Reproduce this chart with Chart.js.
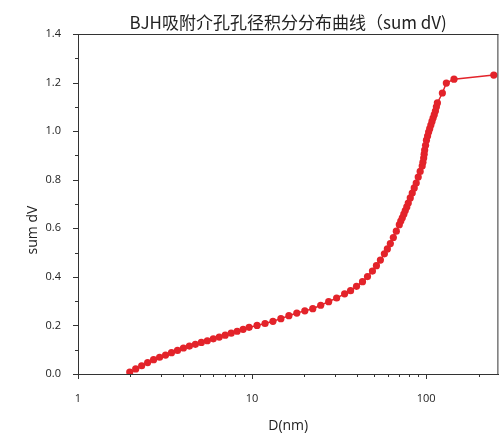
<!DOCTYPE html>
<html>
<head>
<meta charset="utf-8">
<script src="https://cdn.jsdelivr.net/npm/chart.js@4/dist/chart.umd.min.js"></script>
<style>
  html, body { margin: 0; padding: 0; background: #fff; }
  #wrap { width: 502px; height: 440px; }
</style>
</head>
<body>
<div id="wrap"><canvas id="c" width="502" height="440"></canvas></div>
<script>
// pore diameter (nm) and cumulative volume
const poreD = [
  1.983, 2.145, 2.321, 2.512, 2.718, 2.942, 3.184, 3.444, 3.728, 4.034,
  4.365, 4.724, 5.112, 5.532, 5.986, 6.478, 7.01, 7.586, 8.209, 8.884,
  9.614, 10.68, 11.87, 13.18, 14.64, 16.27, 18.07, 20.09, 22.32, 24.79,
  27.54, 30.6, 34.0, 36.8, 39.81, 43.09, 46.02, 49.14, 51.79, 54.59,
  57.54, 59.86, 62.27, 64.78, 67.39, 70.1, 71.5, 72.93, 74.4, 75.86,
  77.4, 78.92, 81.03, 83.18, 85.39, 87.68, 90.02, 92.4, 94.87, 95.8,
  96.76, 97.4, 98.04, 99.2, 100.4, 101.9, 103.3, 104.8, 106.4, 108.0,
  109.6, 111.3, 113.0, 114.5, 116.0, 123.9, 130.6, 144.5, 244.6
];
const sumDV = [
  0.008, 0.021, 0.034, 0.047, 0.059, 0.069, 0.078, 0.088, 0.097, 0.107,
  0.115, 0.122, 0.130, 0.137, 0.145, 0.152, 0.160, 0.168, 0.176, 0.184,
  0.192, 0.200, 0.208, 0.217, 0.228, 0.240, 0.251, 0.260, 0.269, 0.283,
  0.298, 0.313, 0.330, 0.343, 0.361, 0.380, 0.401, 0.424, 0.446, 0.469,
  0.495, 0.515, 0.537, 0.562, 0.588, 0.615, 0.630, 0.643, 0.658, 0.673,
  0.688, 0.704, 0.725, 0.745, 0.766, 0.786, 0.811, 0.834, 0.856, 0.872,
  0.889, 0.905, 0.922, 0.942, 0.963, 0.980, 0.996, 1.010, 1.025, 1.040,
  1.054, 1.068, 1.083, 1.100, 1.116, 1.157, 1.198, 1.214, 1.231
];
const xLabels = [1, 10, 100];
const xMinor = [2, 3, 4, 5, 6, 7, 8, 9, 20, 30, 40, 50, 60, 70, 80, 90, 200];
const yTicks = [0, 0.1, 0.2, 0.3, 0.4, 0.5, 0.6, 0.7, 0.8, 0.9, 1.0, 1.1, 1.2, 1.3, 1.4];

const chartTitle = 'BJH吸附介孔孔径积分分布曲线（sum dV)';
const xTitle = 'D(nm)';
const yTitle = 'sum dV';

const axisColor = '#333';
const red = '#e3232a';

// frame, tick marks and texts
const decor = {
  id: 'decor',
  afterDraw(chart) {
    const ctx = chart.ctx;
    const a = chart.chartArea;
    const xs = chart.scales.x, ys = chart.scales.y;
    ctx.save();
    ctx.strokeStyle = axisColor;
    ctx.lineWidth = 1;
    ctx.beginPath();
    ctx.moveTo(a.left, a.top + 0.5);
    ctx.lineTo(a.right, a.top + 0.5);
    ctx.moveTo(a.right - 0.5, a.top);
    ctx.lineTo(a.right - 0.5, a.bottom);
    // y ticks
    yTicks.forEach((v, i) => {
      const py = Math.round(ys.getPixelForValue(v)) + 0.5;
      const len = i % 2 === 0 ? 5 : 3;
      ctx.moveTo(a.left, py);
      ctx.lineTo(a.left - len, py);
    });
    // x ticks
    xLabels.concat(xMinor).forEach(v => {
      const px = Math.round(xs.getPixelForValue(v)) + 0.5;
      const len = xLabels.includes(v) ? 5 : 3;
      ctx.moveTo(px, a.bottom);
      ctx.lineTo(px, a.bottom + len);
    });
    ctx.stroke();

    ctx.fillStyle = '#222';
    ctx.textAlign = 'center';
    ctx.textBaseline = 'middle';
    ctx.font = '17px "Noto Sans CJK SC", "Noto Sans", sans-serif';
    ctx.fillText(chartTitle, (a.left + a.right) / 2, 23);
    ctx.font = '14px "Open Sans", sans-serif';
    ctx.fillText(xTitle, (a.left + a.right) / 2, 426);
    ctx.translate(33, 230);
    ctx.rotate(-Math.PI / 2);
    ctx.fillText(yTitle, 0, 0);
    ctx.restore();
  }
};

new Chart(document.getElementById('c'), {
  type: 'line',
  data: {
    datasets: [{
      data: poreD.map((d, i) => ({ x: d, y: sumDV[i] })),
      borderColor: red,
      backgroundColor: red,
      borderWidth: 1.5,
      pointRadius: 3.6,
      pointBorderWidth: 0,
      pointHoverRadius: 3.6,
      tension: 0,
      fill: false
    }]
  },
  options: {
    responsive: false,
    animation: false,
    events: [],
    layout: { padding: { top: 34, right: 2, left: 0, bottom: 0 } },
    plugins: { legend: { display: false }, title: { display: false }, tooltip: { enabled: false } },
    scales: {
      x: {
        type: 'logarithmic',
        min: 1,
        max: 260,
        grid: { display: false },
        border: { display: true, color: axisColor, width: 1 },
        afterBuildTicks(scale) {
          scale.ticks = xLabels.map(v => ({ value: v }));
        },
        ticks: {
          autoSkip: false,
          maxRotation: 0,
          padding: 10,
          color: '#222',
          font: { family: 'Open Sans', size: 11 },
          callback: v => String(v)
        },
        afterFit(scale) { scale.height = 66; }
      },
      y: {
        min: 0,
        max: 1.4,
        grid: { display: false },
        border: { display: true, color: axisColor, width: 1 },
        ticks: {
          stepSize: 0.2,
          padding: 9,
          color: '#222',
          font: { family: 'Open Sans', size: 11 },
          callback: v => v.toFixed(1)
        },
        afterFit(scale) { scale.width = 78; }
      }
    }
  },
  plugins: [decor]
});
</script>
</body>
</html>
